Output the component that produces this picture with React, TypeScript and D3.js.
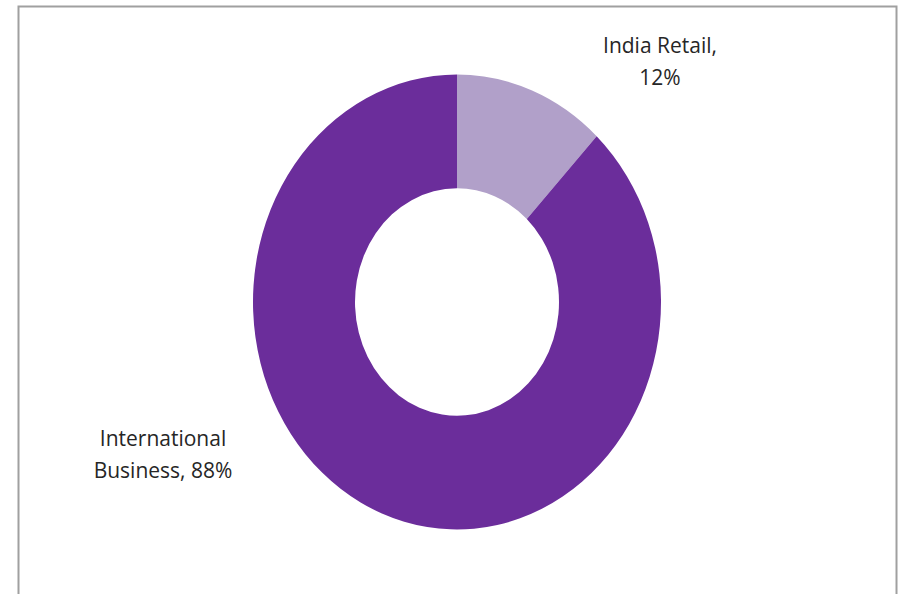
import React, { useEffect, useRef } from 'react';
import * as d3 from 'd3';

const categories = ['India Retail', 'International Business'];
const shares = [12, 88];
const colors = ['#b1a0c9', '#6b2d9b'];
const labelLines = [
  ['India Retail,', '12%'],
  ['International', 'Business, 88%'],
];

export default function App() {
  const svgRef = useRef<SVGSVGElement>(null);

  useEffect(() => {
    if (!svgRef.current) return;
    const svg = d3.select(svgRef.current);
    svg.selectAll('*').remove();

    const height = 594;
    const cx = 457;
    const cy = 302;
    const outer = 204;
    const inner = 102;
    const stretch = 1.115;

    // chart frame
    svg.append('rect')
      .attr('x', 18.5)
      .attr('y', 6.5)
      .attr('width', 878)
      .attr('height', height + 10)
      .attr('fill', '#fff')
      .attr('stroke', '#a0a0a0')
      .attr('stroke-width', 2);

    const pie = d3.pie<number>().sort(null).value(d => d);
    const arc = d3.arc<d3.PieArcDatum<number>>()
      .innerRadius(inner)
      .outerRadius(outer);

    const g = svg.append('g')
      .attr('transform', `translate(${cx},${cy}) scale(1,${stretch})`);

    g.selectAll('path')
      .data(pie(shares))
      .enter()
      .append('path')
      .attr('d', arc)
      .attr('fill', (_, i) => colors[i]);

    const labelPos = [
      { x: 660, y: 53 },
      { x: 163, y: 446 },
    ];

    labelLines.forEach((lines, i) => {
      const t = svg.append('text')
        .attr('x', labelPos[i].x)
        .attr('y', labelPos[i].y)
        .attr('text-anchor', 'middle')
        .attr('font-family', '"Open Sans", sans-serif')
        .attr('font-size', 21)
        .attr('fill', '#262626')
        .attr('aria-label', categories[i]);
      lines.forEach((line, j) => {
        t.append('tspan')
          .attr('x', labelPos[i].x)
          .attr('dy', j === 0 ? 0 : 32)
          .text(line);
      });
    });
  }, []);

  return (
    <div style={{ position: 'absolute', left: 0, top: 0 }}>
      <svg ref={svgRef} width={901} height={594} style={{ display: 'block' }}></svg>
    </div>
  );
}
